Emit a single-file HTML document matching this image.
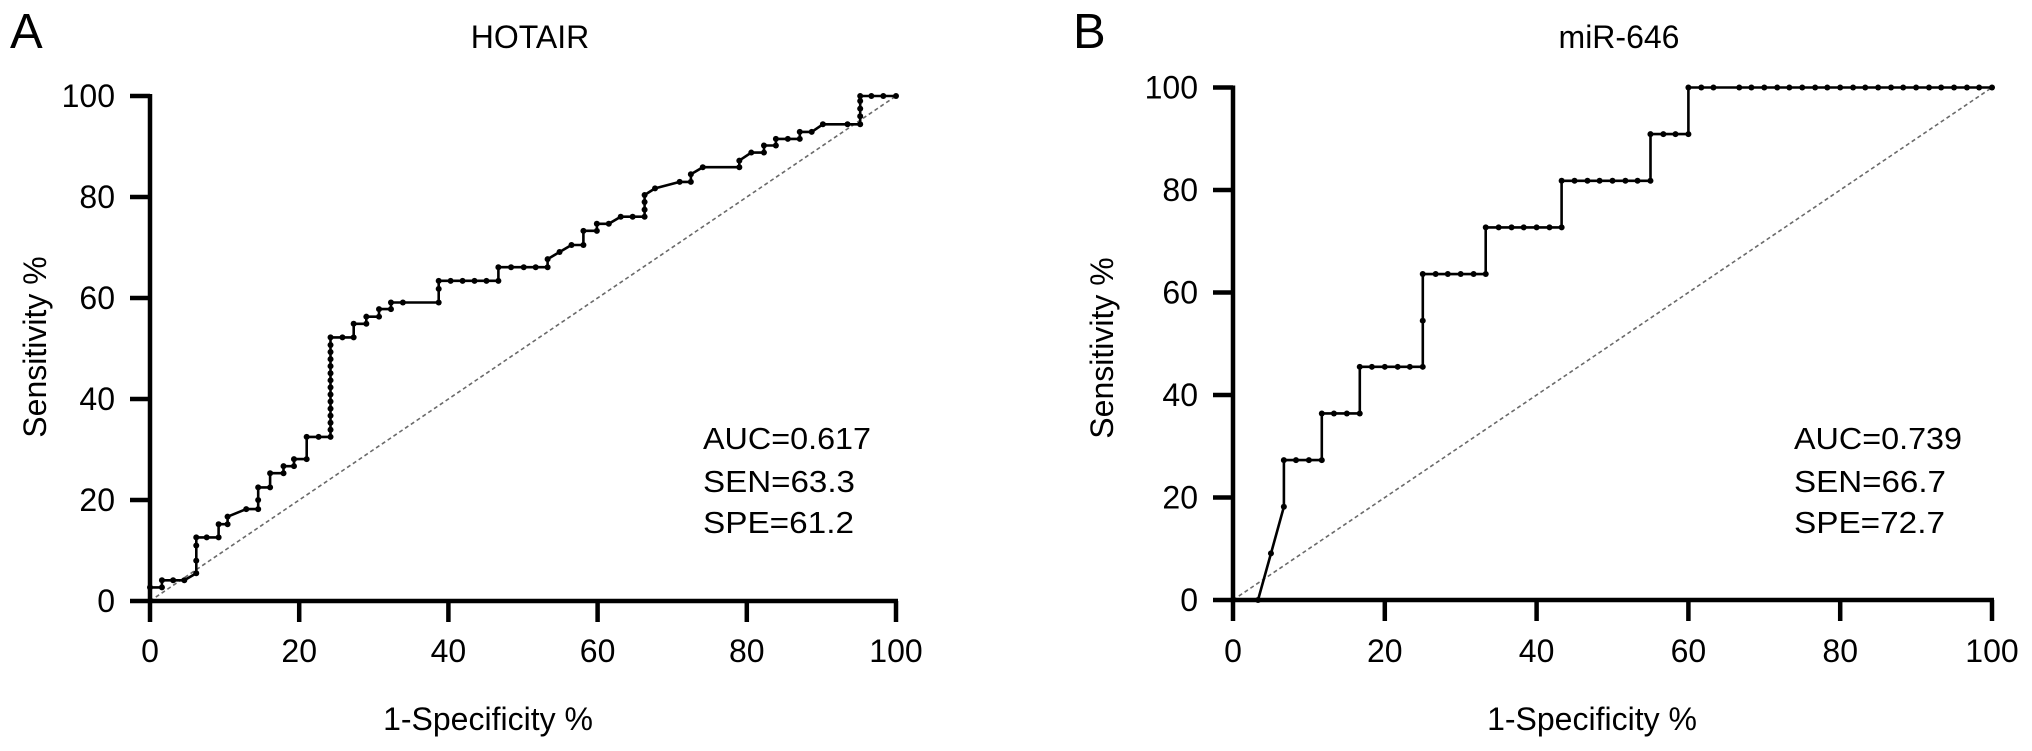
<!DOCTYPE html>
<html>
<head>
<meta charset="utf-8">
<style>
html,body{margin:0;padding:0;background:#fff;}
svg{display:block;font-family:"Liberation Sans",Arial,sans-serif;}
</style>
</head>
<body>
<svg id="fig" width="2032" height="751" viewBox="0 0 2032 751" xmlns="http://www.w3.org/2000/svg">
  <rect x="0" y="0" width="2032" height="751" fill="#fff"/>
  <text x="10" y="48" font-size="49">A</text>
  <text x="530" y="48" font-size="32" text-anchor="middle">HOTAIR</text>
  <text x="1073" y="48" font-size="49">B</text>
  <text x="1619" y="48" font-size="32" text-anchor="middle">miR-646</text>

  <text transform="translate(46,347) rotate(-90)" font-size="32" text-anchor="middle">Sensitivity %</text>
  <text transform="translate(1113,348) rotate(-90)" font-size="32" text-anchor="middle">Sensitivity %</text>
  <text x="488" y="730" font-size="32" text-anchor="middle">1-Specificity %</text>
  <text x="1592" y="730" font-size="32" text-anchor="middle">1-Specificity %</text>

  <g>
    <text x="703" y="449" font-size="31" textLength="168" lengthAdjust="spacingAndGlyphs">AUC=0.617</text>
    <text x="703" y="492" font-size="31" textLength="152" lengthAdjust="spacingAndGlyphs">SEN=63.3</text>
    <text x="703" y="533" font-size="31" textLength="151" lengthAdjust="spacingAndGlyphs">SPE=61.2</text>
  </g>
  <g>
    <text x="1794" y="449" font-size="31" textLength="168" lengthAdjust="spacingAndGlyphs">AUC=0.739</text>
    <text x="1794" y="492" font-size="31" textLength="152" lengthAdjust="spacingAndGlyphs">SEN=66.7</text>
    <text x="1794" y="533" font-size="31" textLength="151" lengthAdjust="spacingAndGlyphs">SPE=72.7</text>
  </g>
  <g id="panelA"></g>
  <g id="panelB"></g>
</svg>
<script>
const xTicks = [0, 20, 40, 60, 80, 100];
const yTicks = [0, 20, 40, 60, 80, 100];
const xTickLabels = ["0", "20", "40", "60", "80", "100"];
const yTickLabels = ["0", "20", "40", "60", "80", "100"];

const hotairFpr = [0,0,1.6,1.6,3.1,4.6,6.2,6.2,6.2,6.2,7.6,9.2,9.2,10.4,10.4,12.9,14.5,14.5,14.5,16.1,16.1,17.9,17.9,19.3,19.3,21,21,22.6,24.2,
  24.2,24.2,24.2,24.2,24.2,24.2,24.2,24.2,24.2,24.2,24.2,24.2,24.2,24.2,
  25.8,27.3,27.3,29,29,30.7,30.7,32.3,32.3,33.9,38.7,38.7,38.7,40.3,41.9,43.5,45.1,46.7,46.7,48.4,50.1,51.7,53.3,53.3,54.9,56.5,58.1,58.1,59.9,59.9,61.5,63.1,64.7,66.3,66.3,66.3,66.3,67.7,71.0,72.5,72.5,74.1,79.0,79.0,80.6,82.3,82.3,83.9,83.9,85.5,87.1,87.1,88.7,90.2,93.5,95.2,95.2,95.2,95.2,95.2,96.7,98.3,100];
const hotairSens = [0,2.7,2.7,4.1,4.1,4.1,5.5,8,11,12.6,12.6,12.6,15.2,15.2,16.7,18.2,18.2,20,22.5,22.5,25.3,25.3,26.7,26.7,28.1,28.1,32.5,32.5,32.5,
  33.9,35.3,36.7,38.1,39.5,40.9,42.3,43.7,45.1,46.5,47.9,49.3,50.7,52.2,
  52.2,52.2,54.9,54.9,56.3,56.3,57.8,57.8,59.1,59.1,59.1,61.8,63.4,63.4,63.4,63.4,63.4,63.4,66.1,66.1,66.1,66.1,66.1,67.7,69.1,70.5,70.5,73.3,73.3,74.7,74.7,76.1,76.1,76.1,77.5,79,80.4,81.7,83.0,83.0,84.5,85.9,85.9,87.2,88.8,88.8,90.2,90.2,91.5,91.5,91.5,92.9,92.9,94.4,94.4,94.4,96,97.5,99,100,100,100,100];

const mirFpr = [0,3.3,5,6.7,6.7,8.3,10,11.7,11.7,13.3,15,16.7,16.7,18.3,20,21.7,23.3,25,25,25,26.7,28.3,30,31.7,33.3,33.3,35,36.7,38.3,40,41.7,43.3,43.3,45,46.7,48.3,50,51.7,53.3,55,55,56.7,58.3,60,60,61.7,63.3,66.7,68.3,70,71.7,73.3,75,76.7,78.3,80,81.7,83.3,85,86.7,88.3,90,91.7,93.3,95,96.7,98.3,100];
const mirSens = [0,0,9.1,18.2,27.3,27.3,27.3,27.3,36.4,36.4,36.4,36.4,45.5,45.5,45.5,45.5,45.5,45.5,54.5,63.6,63.6,63.6,63.6,63.6,63.6,72.7,72.7,72.7,72.7,72.7,72.7,72.7,81.8,81.8,81.8,81.8,81.8,81.8,81.8,81.8,90.9,90.9,90.9,90.9,100,100,100,100,100,100,100,100,100,100,100,100,100,100,100,100,100,100,100,100,100,100,100,100];

const NS = "http://www.w3.org/2000/svg";
function mk(parent, tag, attrs) {
  const el = document.createElementNS(NS, tag);
  for (const k in attrs) el.setAttribute(k, attrs[k]);
  parent.appendChild(el);
  return el;
}

function drawPanel(g, prefix, x0, x1, y0, y1, labelRight, fx, fy) {
  const sx = v => x0 + (x1 - x0) * v / 100;
  const sy = v => y0 + (y1 - y0) * v / 100;
  // diagonal
  const diag = mk(g, "line", {x1: sx(0), y1: sy(0), x2: sx(100), y2: sy(100), stroke: "#6a6a6a", "stroke-width": 1.6, "stroke-dasharray": "4 3"});
  
  
  // axes
  const yAxis = mk(g, "line", {x1: x0, y1: sy(0) + 2, x2: x0, y2: sy(100) - 2, stroke: "#000", "stroke-width": 4.5});
  
  
  const xAxis = mk(g, "line", {x1: x0 - 2, y1: y0, x2: sx(100) + 2, y2: y0, stroke: "#000", "stroke-width": 4.5});
  
  
  yTicks.forEach((t, i) => {
    const tk = mk(g, "line", {x1: x0 - 20, y1: sy(t), x2: x0, y2: sy(t), stroke: "#000", "stroke-width": 4.5});
    
    
    const lb = mk(g, "text", {x: labelRight, y: sy(t) + 11, "font-size": 32, "text-anchor": "end"});
    lb.textContent = yTickLabels[i];
    
    
  });
  xTicks.forEach((t, i) => {
    const tk = mk(g, "line", {x1: sx(t), y1: y0, x2: sx(t), y2: y0 + 21, stroke: "#000", "stroke-width": 4.5});
    
    
    const lb = mk(g, "text", {x: sx(t), y: 662, "font-size": 32, "text-anchor": "middle"});
    lb.textContent = xTickLabels[i];
    
    
  });
  // curve
  let d = "";
  fx.forEach((v, i) => { d += (i ? "L" : "M") + sx(v).toFixed(1) + " " + sy(fy[i]).toFixed(1); });
  const path = mk(g, "path", {d: d, fill: "none", stroke: "#000", "stroke-width": 2.6, "stroke-linejoin": "round"});
  
  
  fx.forEach((v, i) => {
    const c = mk(g, "circle", {cx: sx(v), cy: sy(fy[i]), r: 3, fill: "#000"});
    
    
  });
}

drawPanel(document.getElementById("panelA"), "panel-a", 150, 896, 601, 96, 115, hotairFpr, hotairSens);
drawPanel(document.getElementById("panelB"), "panel-b", 1233, 1992, 600, 87.5, 1198, mirFpr, mirSens);
</script>
</body>
</html>
